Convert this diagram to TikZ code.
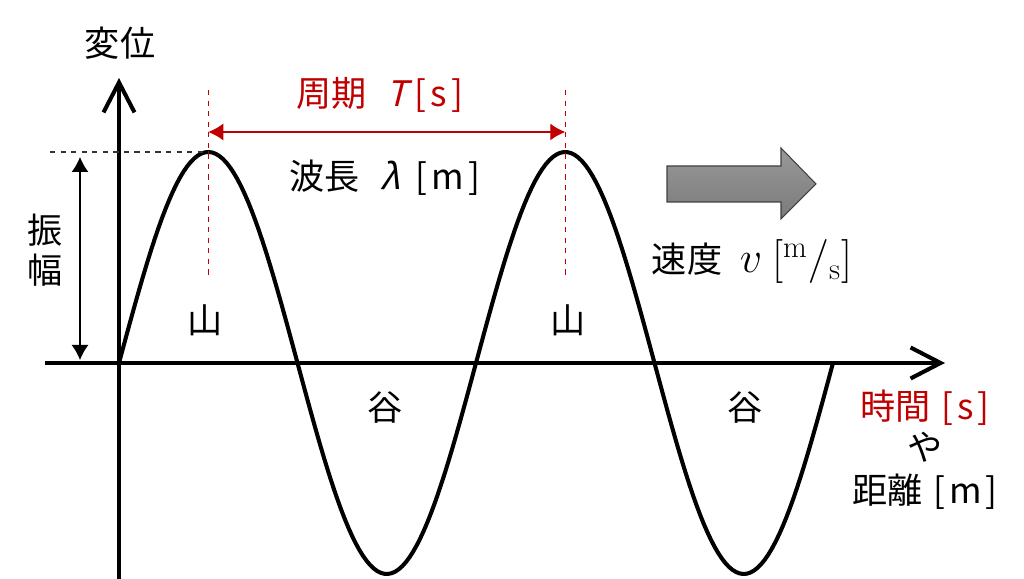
\documentclass[tikz,border=0pt]{standalone}
\usepackage[no-math]{fontspec}
\usepackage{fix-cm}
\setmainfont{Noto Sans CJK JP}
\newfontfamily\slfont[FakeSlant=0.25]{Noto Sans CJK JP}
\usepackage{xcolor}
\usepackage{tikz}
\usetikzlibrary{arrows.meta}
\definecolor{perred}{RGB}{192,0,0}
\newcommand{\unitbr}[1]{[\hspace{0.12em}#1\hspace{0.12em}]}

\begin{document}
\begin{tikzpicture}[font=\fontsize{20}{23}\selectfont,
  axis/.style={line width=2.3pt,-{Straight Barb[length=6mm,width=6.2mm]}},
  wave/.style={line width=2.3pt},
  guide/.style={dashed,line width=0.6pt},
  dim/.style={line width=0.8pt,{Latex[length=3mm,width=3.4mm]}-{Latex[length=3mm,width=3.4mm]}}]
\useasboundingbox (-2.38,-4.32) rectangle (18.1,7.26);

% Define coordinates for easier positioning
\coordinate (O) at (0,0);
\coordinate (Ybot) at (0,-4.32);
\coordinate (Ytop) at (0,5.7);
\coordinate (Xl) at (-1.48,0);
\coordinate (Xr) at (16.52,0);
\coordinate (P1) at (1.785,4.22);
\coordinate (P2) at (8.925,4.22);
\coordinate (Hl) at (-1.38,4.22);
\coordinate (D1t) at (1.785,5.46);
\coordinate (D1b) at (1.785,1.76);
\coordinate (D2t) at (8.925,5.46);
\coordinate (D2b) at (8.925,1.76);
\coordinate (T1) at (1.785,4.62);
\coordinate (T2) at (8.925,4.62);
\coordinate (A1) at (-0.78,4.12);
\coordinate (A2) at (-0.78,0.06);

% Draw the axes
\draw[axis] (Ybot) -- (Ytop);
\draw[axis] (Xl) -- (Xr);

% Draw the wave
\draw[wave] plot[domain=0:14.28,samples=200] (\x,{4.22*sin(\x*360/7.14)});

% Dashed guides
\draw[guide,black!80] (Hl) -- (P1);
\draw[guide,perred] (D1t) -- (D1b);
\draw[guide,perred] (D2t) -- (D2b);

% Period arrow and amplitude arrow
\draw[dim,perred] (T1) -- (T2);
\draw[dim] (A1) -- (A2);

% Draw the block arrow
\draw[black!75,line width=0.6pt,top color=black!40,bottom color=black!52]
  (10.96,3.94) -- (13.24,3.94) -- (13.24,4.3) -- (13.94,3.58)
  -- (13.24,2.88) -- (13.24,3.22) -- (10.96,3.22) -- cycle;

% Add labels
\node (disp) at (0.02,6.4) {変位};
\node[text=perred] (period) at (5.22,5.36) {周期\hspace{0.55em}{\slfont T}\hspace{0.2em}\unitbr{s}};
\node (wavelen) at (5.32,3.7) {波長\hspace{0.6em}{\slfont λ}\hspace{0.45em}\unitbr{m}};
\node[align=center] (amp) at (-1.48,2.26) {振\\幅};
\node (crest1) at (1.72,0.86) {山};
\node (crest2) at (8.98,0.86) {山};
\node (trough1) at (5.32,-0.9) {谷};
\node (trough2) at (12.52,-0.9) {谷};
\node (speed) at (12.66,2.02) {速度\hspace{0.5em}{\fontsize{25}{30}\selectfont$v\ \bigl[{}^{\mathrm{m}}/{}_{\mathrm{s}}\bigr]$}};
\node[text=perred] (time) at (16.12,-0.9) {時間\hspace{0.3em}\unitbr{s}};
\node (ya) at (16.12,-1.68) {や};
\node (dist) at (16.12,-2.58) {距離\hspace{0.3em}\unitbr{m}};
\end{tikzpicture}
\end{document}
